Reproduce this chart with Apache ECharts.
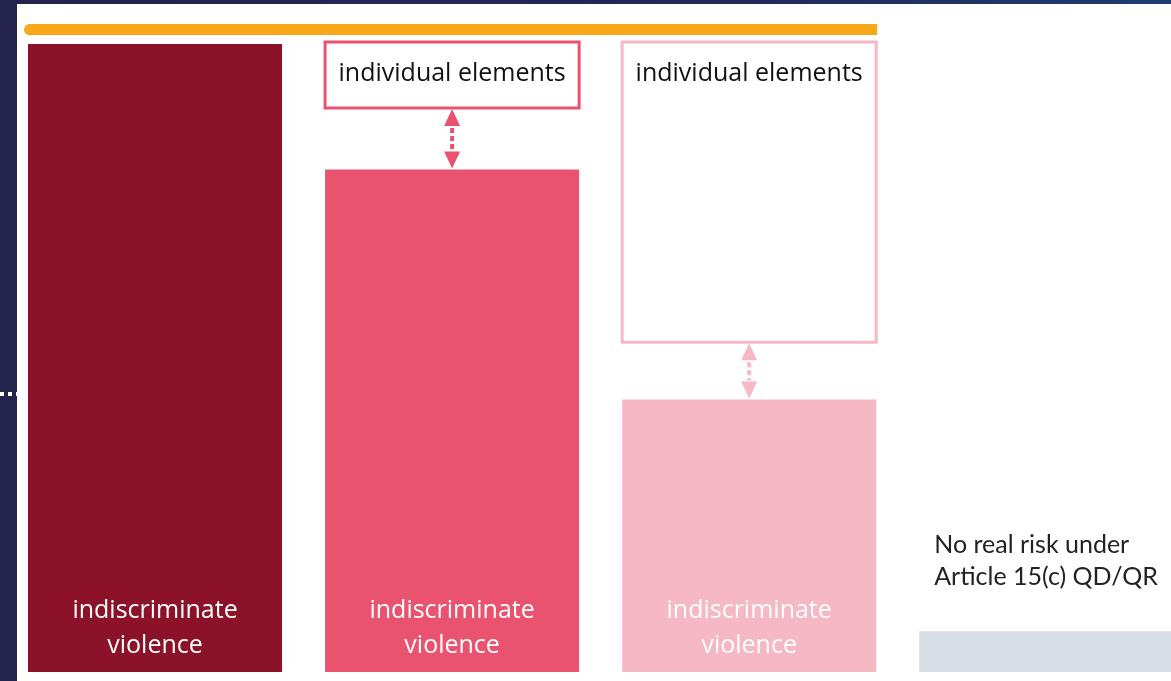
<!DOCTYPE html>
<html><head><meta charset="utf-8">
<script src="https://cdn.jsdelivr.net/npm/echarts@6/dist/echarts.min.js"></script>
<style>html,body{margin:0;padding:0;background:#fff;overflow:hidden}#c{width:1171px;height:681px;}</style>
</head><body><div id="c"></div>
<script>
// ---- data ----
const categories = ['high', 'moderate', 'low', 'none'];
const violenceLevel = [100, 80, 43.4, 6.5];
const violenceLabels = ['indiscriminate\nviolence', 'indiscriminate\nviolence', 'indiscriminate\nviolence', ''];
const individualLow = [null, 89.8, 52.5, null];
const individualHigh = [null, 100.3, 100.3, null];
const individualLabels = ['', 'individual elements', 'individual elements', ''];
const headerLevel = 102.3;
const noteLabels = ['', '', '', 'No real risk under\nArticle 15(c) QD/QR'];

// ---- styles ----
const barColors = ['#8b1228', '#e9536f', '#f5b8c4', '#d6dde5'];
const boxColors = ['#e9536f', '#e9536f', '#f6b8c5', '#f6b8c5'];
const BAR_RATIO = 254 / 297;

const chart = echarts.init(document.getElementById('c'), null, {renderer: 'canvas'});

function barRender(params, api) {
  const i = api.value(0), v = api.value(1);
  const top = api.coord([i, v]);
  const base = api.coord([i, 0]);
  const bw = api.size([1, 0])[0] * BAR_RATIO;
  const left = top[0] - bw / 2;
  const children = [{
    type: 'rect',
    shape: {x: left, y: top[1], width: bw, height: base[1] - top[1]},
    style: {fill: barColors[i]}
  }];
  if (violenceLabels[i]) {
    children.push({
      type: 'text',
      style: {
        text: violenceLabels[i], x: top[0], y: base[1] - 9,
        align: 'center', verticalAlign: 'bottom',
        fill: '#ffffff', fontSize: 25, fontFamily: '"Open Sans"', lineHeight: 35
      }
    });
  }
  if (noteLabels[i]) {
    children.push({
      type: 'text',
      style: {
        text: noteLabels[i], x: left + 15, y: top[1] - 38,
        align: 'left', verticalAlign: 'bottom',
        fill: '#222222', fontSize: 25, fontFamily: 'Lato', lineHeight: 32
      }
    });
  }
  return {type: 'group', children};
}

function boxRender(params, api) {
  const i = api.value(0), lo = api.value(1), hi = api.value(2);
  const t = api.coord([i, hi]);
  const b = api.coord([i, lo]);
  const bw = api.size([1, 0])[0] * BAR_RATIO;
  return {
    type: 'group',
    children: [{
      type: 'rect',
      shape: {x: t[0] - bw / 2, y: t[1], width: bw, height: b[1] - t[1]},
      style: {fill: '#ffffff', stroke: boxColors[i], lineWidth: 3}
    }, {
      type: 'text',
      style: {
        text: individualLabels[i], x: t[0], y: t[1] + 32,
        align: 'center', verticalAlign: 'middle',
        fill: '#111111', fontSize: 25, fontFamily: '"Open Sans"'
      }
    }]
  };
}

function arrowRender(params, api) {
  const i = api.value(0), lo = api.value(1), barTop = api.value(2);
  const a = api.coord([i, lo]);
  const b = api.coord([i, barTop]);
  const x = a[0], y1 = a[1] + 1, y2 = b[1] - 1;
  const hw = 8, hh = 17;
  const c = boxColors[i];
  return {
    type: 'group',
    children: [{
      type: 'polygon', shape: {points: [[x, y1], [x - hw, y1 + hh], [x + hw, y1 + hh]]}, style: {fill: c}
    }, {
      type: 'polygon', shape: {points: [[x, y2], [x - hw, y2 - hh], [x + hw, y2 - hh]]}, style: {fill: c}
    }, {
      type: 'line', shape: {x1: x, y1: y1 + hh + 2, x2: x, y2: y2 - hh - 1},
      style: {stroke: c, lineWidth: 4, lineDash: [5, 3]}
    }]
  };
}

function headerRender(params, api) {
  const v = api.value(1);
  const l = api.coord([0, v]);
  const r = api.coord([2, v]);
  const bw = api.size([1, 0])[0] * BAR_RATIO;
  const x1 = l[0] - bw / 2 - 4, x2 = r[0] + bw / 2 + 1;
  return {
    type: 'rect',
    shape: {x: x1, y: l[1] - 5.5, width: x2 - x1, height: 11, r: [5.5, 0, 0, 5.5]},
    style: {fill: '#f9a81a'}
  };
}

const barData = violenceLevel.map((v, i) => [i, v]);
const boxData = [];
const arrowData = [];
individualLow.forEach((lo, i) => {
  if (lo != null) {
    boxData.push([i, lo, individualHigh[i]]);
    arrowData.push([i, lo, violenceLevel[i]]);
  }
});

chart.setOption({
  backgroundColor: '#ffffff',
  animation: false,
  grid: {left: 6.5, right: 0, top: 44, bottom: 9},
  xAxis: {type: 'value', min: -0.5, max: 3.42, show: false},
  yAxis: {type: 'value', min: 0, max: 100, show: false},
  graphic: [
    {type: 'rect', left: 0, top: 0, shape: {width: 17, height: 681}, style: {fill: '#23234b'}},
    {type: 'rect', left: 0, top: 0, shape: {width: 1171, height: 4},
      style: {fill: new echarts.graphic.LinearGradient(0, 0, 1, 0, [{offset: 0, color: '#23234b'}, {offset: 0.6, color: '#23285a'}, {offset: 1, color: '#1e3c72'}])}},
    {type: 'line', shape: {x1: 0, y1: 394, x2: 17, y2: 394}, style: {stroke: '#ffffff', lineWidth: 4, lineDash: [4, 4]}}
  ],
  series: [
    {type: 'custom', coordinateSystem: 'cartesian2d', data: [[0, headerLevel]], renderItem: headerRender, encode: {x: 0, y: 1}},
    {type: 'custom', coordinateSystem: 'cartesian2d', data: barData, renderItem: barRender, encode: {x: 0, y: 1}},
    {type: 'custom', coordinateSystem: 'cartesian2d', data: boxData, renderItem: boxRender, encode: {x: 0, y: [1, 2]}},
    {type: 'custom', coordinateSystem: 'cartesian2d', data: arrowData, renderItem: arrowRender, encode: {x: 0, y: [1, 2]}}
  ]
});
</script></body></html>
